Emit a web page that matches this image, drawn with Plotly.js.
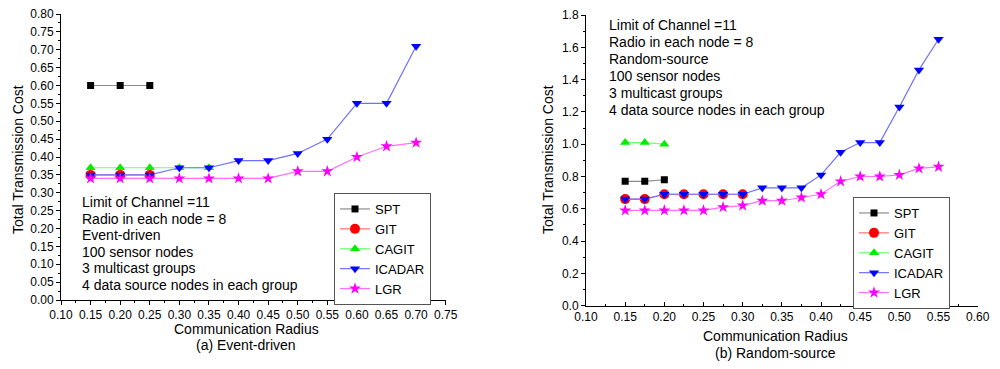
<!DOCTYPE html>
<html>
<head>
<meta charset="utf-8">
<script src="https://cdn.plot.ly/plotly-3.0.1.min.js"></script>
<style>html,body{margin:0;padding:0;background:#fff;}#chart{width:1000px;height:369px;}</style>
</head>
<body>
<div id="chart"></div>
<script>
// ---- (a) Event-driven ----
const xA_SPT = [0.15, 0.20, 0.25];
const yA_SPT = [0.60, 0.60, 0.60];
const xA_GIT = [0.15, 0.20, 0.25];
const yA_GIT = [0.35, 0.35, 0.35];
const xA_CAGIT = [0.15, 0.20, 0.25, 0.30, 0.35];
const yA_CAGIT = [0.37, 0.37, 0.37, 0.37, 0.37];
const xA_ICADAR = [0.15, 0.20, 0.25, 0.30, 0.35, 0.40, 0.45, 0.50, 0.55, 0.60, 0.65, 0.70];
const yA_ICADAR = [0.35, 0.35, 0.35, 0.37, 0.37, 0.39, 0.39, 0.41, 0.45, 0.55, 0.55, 0.71];
const xA_LGR = [0.15, 0.20, 0.25, 0.30, 0.35, 0.40, 0.45, 0.50, 0.55, 0.60, 0.65, 0.70];
const yA_LGR = [0.34, 0.34, 0.34, 0.34, 0.34, 0.34, 0.34, 0.36, 0.36, 0.40, 0.43, 0.44];

// ---- (b) Random-source ----
const xB_SPT = [0.15, 0.175, 0.20];
const yB_SPT = [0.77, 0.77, 0.78];
const xB_GIT = [0.15, 0.175, 0.20, 0.225, 0.25, 0.275, 0.30];
const yB_GIT = [0.66, 0.66, 0.69, 0.69, 0.69, 0.69, 0.69];
const xB_CAGIT = [0.15, 0.175, 0.20];
const yB_CAGIT = [1.01, 1.01, 1.00];
const xB_ICADAR = [0.15, 0.175, 0.20, 0.225, 0.25, 0.275, 0.30, 0.325, 0.35, 0.375, 0.40, 0.425, 0.45, 0.475, 0.50, 0.525, 0.55];
const yB_ICADAR = [0.66, 0.66, 0.69, 0.69, 0.69, 0.69, 0.69, 0.73, 0.73, 0.73, 0.81, 0.95, 1.01, 1.01, 1.23, 1.46, 1.65];
const xB_LGR = [0.15, 0.175, 0.20, 0.225, 0.25, 0.275, 0.30, 0.325, 0.35, 0.375, 0.40, 0.425, 0.45, 0.475, 0.50, 0.525, 0.55];
const yB_LGR = [0.59, 0.59, 0.59, 0.59, 0.59, 0.61, 0.62, 0.65, 0.65, 0.67, 0.69, 0.77, 0.80, 0.80, 0.81, 0.85, 0.86];

const seriesNames = ['SPT', 'GIT', 'CAGIT', 'ICADAR', 'LGR'];
const notesA = ['Limit of Channel =11', 'Radio in each node = 8', 'Event-driven', '100 sensor nodes', '3 multicast groups', '4 data source nodes in each group'];
const notesB = ['Limit of Channel =11', 'Radio in each node = 8', 'Random-source', '100 sensor nodes', '3 multicast groups', '4 data source nodes in each group'];
const captionA = '(a) Event-driven';
const captionB = '(b) Random-source';
const xTitle = 'Communication Radius';
const yTitle = 'Total Transmission Cost';

const styles = [
  {line: '#8c8c8c', marker: '#000000', symbol: 'square', size: 7},
  {line: '#ff7070', marker: '#ff0000', symbol: 'circle', size: 10},
  {line: '#70ff70', marker: '#00ee00', symbol: 'triangle-up', size: 9},
  {line: '#7070ff', marker: '#0000ff', symbol: 'triangle-down', size: 9},
  {line: '#ff70ff', marker: '#ff00ff', symbol: 'star', size: 9}
];

const dataA = [[xA_SPT, yA_SPT], [xA_GIT, yA_GIT], [xA_CAGIT, yA_CAGIT], [xA_ICADAR, yA_ICADAR], [xA_LGR, yA_LGR]];
const dataB = [[xB_SPT, yB_SPT], [xB_GIT, yB_GIT], [xB_CAGIT, yB_CAGIT], [xB_ICADAR, yB_ICADAR], [xB_LGR, yB_LGR]];

const traces = [];
dataA.forEach((d, i) => {
  const s = styles[i];
  traces.push({x: d[0], y: d[1], name: seriesNames[i], type: 'scatter', mode: 'lines+markers',
    xaxis: 'x', yaxis: 'y', legend: 'legend',
    line: {color: s.line, width: 1.2}, marker: {color: s.marker, symbol: s.symbol, size: s.size}});
});
dataB.forEach((d, i) => {
  const s = styles[i];
  traces.push({x: d[0], y: d[1], name: seriesNames[i], type: 'scatter', mode: 'lines+markers',
    xaxis: 'x2', yaxis: 'y2', legend: 'legend2',
    line: {color: s.line, width: 1.2}, marker: {color: s.marker, symbol: s.symbol, size: s.size}});
});

const W = 1000, H = 369;
const px = v => v / W;
const py = v => 1 - v / H;
const font = {family: 'Liberation Sans, Arial, sans-serif', color: '#000'};

const axBase = {
  showgrid: false, zeroline: false, showline: true, linecolor: '#000', linewidth: 1,
  ticks: 'outside', ticklen: 4, tickwidth: 1, tickcolor: '#000',
  tickfont: {family: font.family, size: 12, color: '#000'}, mirror: false
};

const annotations = [];
function addText(text, x, y, opts) {
  annotations.push(Object.assign({text: text, x: px(x), y: py(y), xref: 'paper', yref: 'paper',
    showarrow: false, font: {family: font.family, size: 14, color: '#000'}}, opts || {}));
}
notesA.forEach((t, i) => addText(t, 80, 202 + i * 16.6, {xanchor: 'left', yanchor: 'middle'}));
notesB.forEach((t, i) => addText(t, 607, 25 + i * 17, {xanchor: 'left', yanchor: 'middle'}));
addText(xTitle, 246, 329, {xanchor: 'center', yanchor: 'middle'});
addText(captionA, 246, 345, {xanchor: 'center', yanchor: 'middle'});
addText(xTitle, 775, 336, {xanchor: 'center', yanchor: 'middle'});
addText(captionB, 775, 353, {xanchor: 'center', yanchor: 'middle'});
addText(yTitle, 18, 160, {xanchor: 'center', yanchor: 'middle', textangle: -90});
addText(yTitle, 548, 160, {xanchor: 'center', yanchor: 'middle', textangle: -90});

const legendBase = {
  bgcolor: '#fff', bordercolor: '#555', borderwidth: 1,
  font: {family: font.family, size: 13, color: '#000'},
  xanchor: 'left', yanchor: 'top', xref: 'paper', yref: 'paper', tracegroupgap: 0, itemwidth: 30
};

const layout = {
  width: W, height: H,
  margin: {l: 0, r: 0, t: 0, b: 0},
  paper_bgcolor: '#fff', plot_bgcolor: '#fff',
  font: font,
  xaxis: Object.assign({}, axBase, {domain: [px(61), px(445.7)], range: [0.10, 0.75], dtick: 0.05, tick0: 0.10,
    tickformat: '.2f', anchor: 'y', minor: {dtick: 0.025, ticklen: 2, ticks: 'outside', tickcolor: '#000'}}),
  yaxis: Object.assign({}, axBase, {domain: [py(300), py(14)], range: [0, 0.8], dtick: 0.05, tick0: 0,
    tickformat: '.2f', anchor: 'x', minor: {dtick: 0.025, ticklen: 2, ticks: 'outside', tickcolor: '#000'}}),
  xaxis2: Object.assign({}, axBase, {domain: [px(586), px(977.7)], range: [0.10, 0.60], dtick: 0.05, tick0: 0.10,
    tickformat: '.2f', anchor: 'y2', ticks: 'inside', minor: {dtick: 0.025, ticklen: 2, ticks: 'inside', tickcolor: '#000'}}),
  yaxis2: Object.assign({}, axBase, {domain: [py(305.7), py(15)], range: [0, 1.8], dtick: 0.2, tick0: 0,
    tickformat: '.1f', anchor: 'x2', minor: {dtick: 0.1, ticklen: 2, ticks: 'outside', tickcolor: '#000'}}),
  legend: Object.assign({}, legendBase, {x: px(334), y: py(193)}),
  legend2: Object.assign({}, legendBase, {x: px(853), y: py(197)}),
  annotations: annotations,
  showlegend: true
};

Plotly.newPlot('chart', traces, layout, {displayModeBar: false, staticPlot: true});
</script>
</body>
</html>
